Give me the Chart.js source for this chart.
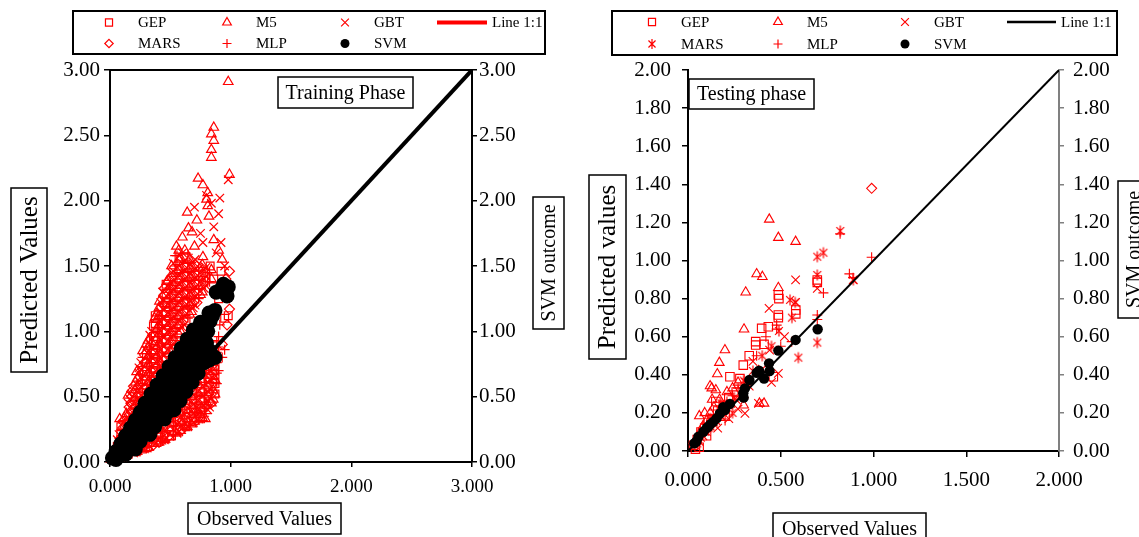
<!DOCTYPE html>
<html>
<head>
<meta charset="utf-8">
<title>Training and testing phase</title>
<script src="https://cdn.jsdelivr.net/npm/chart.js@4.4.1/dist/chart.umd.min.js"></script>
<style>
  body { margin: 0; background: #fff; }
  #wrap { position: relative; width: 1139px; height: 537px; overflow: hidden; }
  canvas { position: absolute; top: 0; }
  #train { left: 0; }
  #test { left: 575px; }
</style>
</head>
<body>
<div id="wrap">
  <canvas id="train" width="575" height="537"></canvas>
  <canvas id="test" width="564" height="537"></canvas>
</div>
<script>
// series names as in the legends
const modelNames = ['GEP', 'M5', 'GBT', 'MARS', 'MLP', 'SVM'];
const lineName = 'Line 1:1';

// axis ranges
const trainX = [0, 3], trainY = [0, 3];
const testX = [0, 2], testY = [0, 2];

// ---- training phase, [observed, predicted] ----
const trainGEP = [
  [0.09,0.17],[0.09,0.22],[0.09,0.27],
  [0.36,0.62],[0.36,0.69],[0.36,0.76],[0.36,0.83],[0.36,0.90],[0.36,0.96],[0.36,1.04],
  [0.63,1.08],[0.63,1.15],[0.63,1.22],[0.63,1.29],[0.63,1.36],[0.63,1.43],[0.63,1.50],[0.63,1.57],
  [0.375,0.65],[0.375,0.72],[0.375,0.79],[0.375,0.86],[0.375,0.93],[0.375,0.99],[0.375,1.06],[0.375,1.12],
  [0.465,0.80],[0.465,0.87],[0.465,0.94],[0.465,1.01],[0.465,1.08],[0.465,1.15],[0.465,1.22],[0.465,1.29],[0.465,1.36],
  [0.15,0.06],[0.15,0.10],[0.15,0.13],[0.27,0.10],[0.27,0.15],[0.27,0.21],
  [0.39,0.15],[0.39,0.21],[0.39,0.27],[0.39,0.33],
  [0.51,0.20],[0.51,0.27],[0.51,0.34],[0.51,0.41],[0.51,0.44],
  [0.63,0.27],[0.63,0.34],[0.63,0.41],[0.63,0.48],[0.63,0.55],
  [0.75,0.33],[0.75,0.40],[0.75,0.47],[0.75,0.54],[0.75,0.62],[0.75,0.68],
  [0.87,0.52],[0.87,0.60],[0.87,0.67],[0.87,0.74],[0.87,0.82],[0.87,0.90],
  [0.83,1.50],[0.92,1.46],[0.95,1.10],[0.98,1.12],[0.90,1.25],[0.86,1.40],[0.94,1.32]
];
const trainM5 = [
  [0.01,0.02],[0.02,0.05],[0.04,0.11],[0.03,0.08],[0.045,0.10],
  [0.12,0.22],[0.12,0.28],[0.12,0.34],[0.135,0.25],[0.135,0.31],[0.135,0.37],
  [0.21,0.37],[0.21,0.43],[0.21,0.49],[0.21,0.55],[0.21,0.61],
  [0.225,0.40],[0.225,0.46],[0.225,0.52],[0.225,0.58],[0.225,0.64],
  [0.30,0.52],[0.30,0.58],[0.30,0.65],[0.30,0.72],[0.30,0.78],[0.30,0.85],[0.30,0.90],
  [0.315,0.55],[0.315,0.61],[0.315,0.68],[0.315,0.75],[0.315,0.81],[0.315,0.88],[0.315,0.93],
  [0.39,0.67],[0.39,0.74],[0.39,0.81],[0.39,0.88],[0.39,0.95],[0.39,1.02],[0.39,1.09],[0.39,1.14],
  [0.405,0.70],[0.405,0.77],[0.405,0.84],[0.405,0.91],[0.405,0.98],[0.405,1.05],[0.405,1.12],[0.405,1.18],
  [0.48,0.83],[0.48,0.90],[0.48,0.97],[0.48,1.04],[0.48,1.11],[0.48,1.18],[0.48,1.25],[0.48,1.32],[0.48,1.39],
  [0.495,0.85],[0.495,0.92],[0.495,0.99],[0.495,1.06],[0.495,1.13],[0.495,1.20],[0.495,1.27],[0.495,1.34],[0.495,1.41],
  [0.57,0.98],[0.57,1.05],[0.57,1.12],[0.57,1.19],[0.57,1.26],[0.57,1.33],[0.57,1.40],[0.57,1.47],[0.57,1.55],[0.57,1.62],
  [0.585,1.00],[0.585,1.07],[0.585,1.14],[0.585,1.21],[0.585,1.28],[0.585,1.35],[0.585,1.42],[0.585,1.49],[0.585,1.56],
  [0.66,1.13],[0.66,1.20],[0.66,1.27],[0.66,1.34],[0.66,1.41],[0.66,1.48],[0.66,1.55],
  [0.675,1.15],[0.675,1.22],[0.675,1.29],[0.675,1.36],[0.675,1.43],[0.675,1.50],
  [0.75,1.28],[0.75,1.35],[0.75,1.42],[0.75,1.49],[0.765,1.30],[0.765,1.37],[0.765,1.44],[0.765,1.51],
  [0.84,1.40],[0.84,1.47],
  [0.98,2.91],[0.86,2.56],[0.84,2.51],[0.86,2.46],[0.84,2.39],[0.84,2.33],[0.99,2.20],
  [0.73,2.17],[0.77,2.12],[0.80,2.01],[0.81,2.06],[0.64,1.91],[0.72,1.85],[0.65,1.79],
  [0.81,1.96],[0.82,1.88],[0.55,1.65],[0.70,1.65],[0.51,1.50],[0.77,1.57],[0.93,1.55],
  [0.47,1.38],[0.41,1.23],[0.37,1.10],[0.27,0.85],[0.22,0.69],[0.15,0.51],[0.08,0.33],
  [0.60,1.72],[0.68,1.76],[0.86,1.70],[0.90,1.62],[0.62,1.62],
  [0.64,0.27],[0.79,0.33],[0.87,0.52],[0.87,0.63],[0.80,0.43],[0.72,0.38],[0.55,0.22],
  [0.45,0.17],[0.30,0.10],[0.60,0.30],[0.75,0.36],[0.84,0.45],[0.70,0.31],[0.42,0.16],
  [0.03,0.01],[0.12,0.04],[0.21,0.07],
  [0.135,0.05],[0.135,0.09],[0.225,0.08],[0.225,0.13],[0.225,0.18],
  [0.315,0.11],[0.315,0.17],[0.315,0.23],[0.315,0.28],
  [0.405,0.15],[0.405,0.22],[0.405,0.28],[0.405,0.34],
  [0.495,0.19],[0.495,0.26],[0.495,0.33],[0.495,0.40],
  [0.585,0.24],[0.585,0.31],[0.585,0.38],[0.585,0.45],[0.585,0.51],
  [0.675,0.29],[0.675,0.36],[0.675,0.43],[0.675,0.50],[0.675,0.58],
  [0.765,0.34],[0.765,0.41],[0.765,0.48],[0.765,0.55],[0.765,0.63],[0.765,0.69],
  [0.855,0.48],[0.855,0.55],[0.855,0.62],[0.855,0.69],[0.855,0.76],[0.855,0.84]
];
const trainGBT = [
  [0.06,0.12],[0.06,0.17],[0.075,0.15],[0.075,0.21],
  [0.15,0.27],[0.15,0.33],[0.15,0.39],[0.15,0.45],
  [0.165,0.30],[0.165,0.36],[0.165,0.42],[0.165,0.48],
  [0.24,0.42],[0.24,0.48],[0.24,0.55],[0.24,0.62],[0.24,0.68],[0.24,0.72],
  [0.255,0.45],[0.255,0.51],[0.255,0.58],[0.255,0.65],[0.255,0.71],[0.255,0.76],
  [0.33,0.57],[0.33,0.64],[0.33,0.70],[0.33,0.77],[0.33,0.84],[0.33,0.90],[0.33,0.97],
  [0.345,0.60],[0.345,0.67],[0.345,0.73],[0.345,0.80],[0.345,0.87],[0.345,0.94],[0.345,1.00],
  [0.42,0.72],[0.42,0.79],[0.42,0.86],[0.42,0.93],[0.42,1.00],[0.42,1.07],[0.42,1.14],[0.42,1.22],
  [0.435,0.75],[0.435,0.82],[0.435,0.89],[0.435,0.96],[0.435,1.03],[0.435,1.10],[0.435,1.17],[0.435,1.24],[0.435,1.30],
  [0.51,0.88],[0.51,0.95],[0.51,1.02],[0.51,1.09],[0.51,1.16],[0.51,1.23],[0.51,1.30],[0.51,1.37],[0.51,1.45],
  [0.525,0.90],[0.525,0.97],[0.525,1.04],[0.525,1.11],[0.525,1.18],[0.525,1.25],[0.525,1.32],[0.525,1.39],[0.525,1.46],[0.525,1.52],
  [0.60,1.03],[0.60,1.10],[0.60,1.17],[0.60,1.24],[0.60,1.31],[0.60,1.38],[0.60,1.45],[0.60,1.52],[0.60,1.60],
  [0.615,1.05],[0.615,1.12],[0.615,1.19],[0.615,1.26],[0.615,1.33],[0.615,1.40],[0.615,1.47],[0.615,1.54],
  [0.69,1.18],[0.69,1.25],[0.69,1.32],[0.69,1.39],[0.69,1.46],[0.69,1.53],
  [0.705,1.20],[0.705,1.27],[0.705,1.34],[0.705,1.41],[0.705,1.48],[0.705,1.55],
  [0.78,1.33],[0.78,1.40],[0.78,1.47],[0.795,1.35],[0.795,1.42],[0.795,1.49],
  [0.09,0.04],[0.09,0.07],[0.105,0.04],[0.105,0.08],
  [0.21,0.08],[0.21,0.12],[0.21,0.17],[0.195,0.07],[0.195,0.11],[0.195,0.16],
  [0.285,0.10],[0.285,0.16],[0.285,0.22],
  [0.33,0.12],[0.33,0.18],[0.33,0.24],[0.33,0.29],
  [0.375,0.14],[0.375,0.20],[0.375,0.26],[0.375,0.32],
  [0.45,0.17],[0.45,0.24],[0.45,0.31],[0.45,0.37],
  [0.465,0.18],[0.465,0.24],[0.465,0.31],[0.465,0.38],
  [0.57,0.23],[0.57,0.30],[0.57,0.37],[0.57,0.44],[0.57,0.50],
  [0.555,0.22],[0.555,0.29],[0.555,0.36],[0.555,0.43],[0.555,0.49],
  [0.645,0.27],[0.645,0.34],[0.645,0.41],[0.645,0.48],[0.645,0.56],
  [0.69,0.30],[0.69,0.37],[0.69,0.44],[0.69,0.51],[0.69,0.59],
  [0.735,0.33],[0.735,0.40],[0.735,0.47],[0.735,0.54],[0.735,0.62],
  [0.81,0.40],[0.81,0.47],[0.81,0.54],[0.81,0.61],[0.81,0.68],[0.81,0.74],
  [0.825,0.42],[0.825,0.49],[0.825,0.56],[0.825,0.63],[0.825,0.70],[0.825,0.77],
  [0.98,2.16],[0.91,2.02],[0.80,2.04],[0.77,1.68],[0.92,1.68],[0.86,1.80],[0.90,1.90],
  [0.70,1.95],[0.88,1.60],[0.75,1.75],[0.84,1.98],[0.95,1.50]
];
const trainMARS = [
  [0.105,0.20],[0.105,0.26],[0.105,0.31],
  [0.18,0.32],[0.18,0.38],[0.18,0.44],[0.18,0.50],[0.18,0.54],
  [0.195,0.35],[0.195,0.41],[0.195,0.47],[0.195,0.53],[0.195,0.58],
  [0.285,0.50],[0.285,0.56],[0.285,0.62],[0.285,0.69],[0.285,0.76],[0.285,0.82],
  [0.45,0.78],[0.45,0.85],[0.45,0.92],[0.45,0.99],[0.45,1.06],[0.45,1.13],[0.45,1.20],[0.45,1.28],[0.45,1.33],
  [0.72,1.22],[0.72,1.29],[0.72,1.36],[0.72,1.43],[0.72,1.50],
  [0.12,0.05],[0.12,0.09],[0.24,0.09],[0.24,0.14],[0.24,0.19],
  [0.36,0.13],[0.36,0.19],[0.36,0.26],[0.36,0.31],
  [0.48,0.19],[0.48,0.25],[0.48,0.32],[0.48,0.39],
  [0.60,0.25],[0.60,0.32],[0.60,0.39],[0.60,0.46],[0.60,0.53],
  [0.72,0.32],[0.72,0.39],[0.72,0.46],[0.72,0.53],[0.72,0.61],
  [0.84,0.45],[0.84,0.52],[0.84,0.59],[0.84,0.66],[0.84,0.73],[0.84,0.80],
  [0.99,1.46],[0.99,1.17],[0.97,1.05],[0.93,0.90],[0.96,1.40]
];
const trainMLP = [
  [0.27,0.47],[0.27,0.53],[0.27,0.60],[0.27,0.66],[0.27,0.73],[0.27,0.80],
  [0.54,0.93],[0.54,1.00],[0.54,1.07],[0.54,1.14],[0.54,1.21],[0.54,1.28],[0.54,1.35],[0.54,1.42],[0.54,1.50],[0.54,1.58],
  [0.555,0.95],[0.555,1.02],[0.555,1.09],[0.555,1.16],[0.555,1.23],[0.555,1.30],[0.555,1.37],[0.555,1.44],[0.555,1.51],[0.555,1.58],
  [0.645,1.10],[0.645,1.17],[0.645,1.24],[0.645,1.31],[0.645,1.38],[0.645,1.45],[0.645,1.52],[0.645,1.59],
  [0.735,1.25],[0.735,1.32],[0.735,1.39],[0.735,1.46],
  [0.81,1.38],[0.81,1.45],[0.825,1.38],[0.825,1.45],
  [0.06,0.03],[0.06,0.05],[0.075,0.03],[0.075,0.06],
  [0.18,0.07],[0.18,0.11],[0.18,0.15],[0.165,0.06],[0.165,0.10],[0.165,0.14],
  [0.255,0.09],[0.255,0.14],[0.255,0.20],
  [0.30,0.11],[0.30,0.17],[0.30,0.23],
  [0.345,0.12],[0.345,0.19],[0.345,0.25],[0.345,0.30],
  [0.42,0.16],[0.42,0.22],[0.42,0.29],[0.42,0.35],
  [0.435,0.16],[0.435,0.23],[0.435,0.30],[0.435,0.36],
  [0.54,0.21],[0.54,0.28],[0.54,0.35],[0.54,0.42],[0.54,0.47],
  [0.525,0.20],[0.525,0.27],[0.525,0.34],[0.525,0.41],[0.525,0.46],
  [0.615,0.26],[0.615,0.33],[0.615,0.40],[0.615,0.47],[0.615,0.54],
  [0.66,0.28],[0.66,0.35],[0.66,0.42],[0.66,0.49],[0.66,0.57],
  [0.705,0.31],[0.705,0.38],[0.705,0.45],[0.705,0.52],[0.705,0.60],
  [0.78,0.35],[0.78,0.42],[0.78,0.49],[0.78,0.56],[0.78,0.64],[0.78,0.70],
  [0.795,0.37],[0.795,0.44],[0.795,0.51],[0.795,0.58],[0.795,0.65],[0.795,0.72],
  [0.885,0.60],[0.885,0.68],[0.885,0.76],[0.885,0.84],[0.885,0.92],
  [0.90,0.70],[0.90,0.80],[0.90,0.88],[0.90,0.96],
  [0.93,0.80],[0.95,0.86],[0.91,1.05]
];
const trainSVM = [
  [0.02,0.03],[0.05,0.02],[0.05,0.08],[0.09,0.07],[0.13,0.06],
  [0.09,0.14],[0.13,0.13],[0.17,0.11],[0.21,0.10],
  [0.13,0.20],[0.17,0.19],[0.21,0.17],[0.25,0.16],
  [0.17,0.26],[0.21,0.25],[0.25,0.23],[0.29,0.22],[0.33,0.21],
  [0.21,0.32],[0.25,0.31],[0.29,0.29],[0.33,0.28],[0.37,0.27],
  [0.25,0.38],[0.29,0.37],[0.33,0.35],[0.37,0.34],[0.41,0.33],[0.45,0.33],
  [0.29,0.45],[0.33,0.44],[0.37,0.42],[0.41,0.41],[0.45,0.40],[0.49,0.39],[0.53,0.40],
  [0.34,0.52],[0.38,0.51],[0.42,0.49],[0.46,0.48],[0.50,0.47],[0.54,0.46],[0.58,0.47],
  [0.39,0.59],[0.43,0.58],[0.47,0.56],[0.51,0.55],[0.55,0.54],[0.59,0.53],[0.63,0.54],
  [0.44,0.66],[0.48,0.65],[0.52,0.63],[0.56,0.62],[0.60,0.61],[0.64,0.60],[0.68,0.61],
  [0.49,0.73],[0.53,0.72],[0.57,0.70],[0.61,0.69],[0.65,0.68],[0.69,0.67],[0.73,0.68],
  [0.54,0.80],[0.58,0.79],[0.62,0.77],[0.66,0.76],[0.70,0.75],[0.74,0.75],[0.78,0.76],[0.82,0.78],[0.87,0.80],
  [0.59,0.87],[0.63,0.86],[0.67,0.84],[0.71,0.83],[0.75,0.82],[0.79,0.83],[0.83,0.85],
  [0.64,0.94],[0.68,0.93],[0.72,0.91],[0.76,0.90],[0.80,0.91],
  [0.69,1.01],[0.73,0.99],[0.77,0.98],[0.81,1.00],
  [0.75,1.07],[0.79,1.06],[0.83,1.08],[0.82,1.14],[0.85,1.12],[0.87,1.16],
  [0.88,1.30],[0.92,1.32],[0.96,1.29],[0.98,1.34],[0.94,1.36],[0.97,1.27]
];

// ---- testing phase ----
const testGEP = [
  [0.487,0.819],[0.49,0.80],[0.697,0.898],[0.697,0.885],[0.581,0.740],[0.581,0.72],
  [0.487,0.714],[0.487,0.70],[0.397,0.644],[0.433,0.652],[0.365,0.574],[0.365,0.556],
  [0.298,0.451],[0.226,0.39],[0.46,0.39],[0.33,0.50],[0.41,0.56],
  [0.03,0.03],[0.05,0.06],[0.07,0.10],[0.09,0.12],[0.11,0.15],[0.13,0.17],[0.16,0.21],
  [0.19,0.24],[0.22,0.28],[0.26,0.31],[0.28,0.38],[0.15,0.26],[0.10,0.08],[0.20,0.19],
  [0.04,0.01],[0.06,0.02]
];
const testM5 = [
  [0.438,1.216],[0.487,1.120],[0.580,1.099],[0.370,0.929],[0.401,0.915],[0.487,0.857],
  [0.311,0.833],[0.302,0.639],[0.199,0.530],[0.169,0.464],[0.158,0.404],[0.119,0.341],
  [0.128,0.330],[0.061,0.184],[0.410,0.250],[0.385,0.250],
  [0.04,0.05],[0.06,0.09],[0.08,0.13],[0.10,0.16],[0.12,0.20],[0.14,0.23],[0.17,0.27],
  [0.21,0.31],[0.24,0.33],[0.27,0.36],[0.09,0.20],[0.13,0.27],[0.30,0.24],[0.18,0.20],[0.15,0.32]
];
const testGBT = [
  [0.437,0.749],[0.580,0.898],[0.697,0.854],[0.891,0.898],[0.487,0.408],[0.307,0.198],
  [0.38,0.25],[0.58,0.78],[0.35,0.47],[0.44,0.53],[0.52,0.60],[0.40,0.43],[0.33,0.34],[0.45,0.36],
  [0.04,0.03],[0.06,0.05],[0.08,0.08],[0.10,0.10],[0.12,0.13],[0.15,0.16],[0.18,0.18],
  [0.20,0.22],[0.23,0.25],[0.26,0.27],[0.29,0.32],[0.16,0.12],[0.22,0.17],[0.31,0.36],[0.27,0.22]
];
const testMARS = [
  [0.821,1.155],[0.697,1.020],[0.730,1.041],[0.697,0.924],[0.550,0.793],[0.578,0.78],
  [0.697,0.569],[0.595,0.490],[0.891,0.898],[0.45,0.55],[0.40,0.50],[0.35,0.42],
  [0.49,0.63],[0.56,0.70],[0.30,0.37],
  [0.05,0.04],[0.07,0.07],[0.09,0.10],[0.11,0.12],[0.14,0.15],[0.17,0.19],[0.19,0.21],
  [0.22,0.24],[0.25,0.28],[0.28,0.30],[0.12,0.17],[0.18,0.25],[0.24,0.20]
];
const testMARSodd = [[0.990,1.379]];
const testMLP = [
  [0.82,1.14],[0.990,1.017],[0.73,0.83],[0.697,0.714],[0.697,0.69],[0.478,0.661],
  [0.478,0.64],[0.559,0.574],[0.89,0.91],[0.87,0.93],[0.42,0.60],[0.37,0.50],[0.50,0.55],
  [0.03,0.04],[0.06,0.07],[0.08,0.09],[0.11,0.11],[0.13,0.14],[0.15,0.18],[0.18,0.22],
  [0.21,0.26],[0.24,0.29],[0.27,0.33],[0.10,0.14],[0.20,0.16],[0.30,0.28]
];
const testSVM = [
  [0.699,0.639],[0.580,0.583],[0.487,0.527],[0.437,0.460],[0.44,0.42],[0.383,0.421],
  [0.41,0.38],[0.37,0.41],[0.331,0.373],[0.307,0.329],[0.298,0.303],[0.226,0.247],
  [0.199,0.215],[0.172,0.197],[0.154,0.171],[0.136,0.153],[0.110,0.128],[0.083,0.101],
  [0.056,0.075],[0.034,0.040],[0.30,0.28],[0.19,0.23],[0.12,0.14],[0.10,0.12],[0.045,0.05]
];

const RED = '#ff0000';
const FONT = '"Liberation Serif", "Times New Roman", serif';
const pts = a => a.map(([x, y]) => ({ x, y }));

function drawMarker(ctx, style, x, y, r, color, lw) {
  ctx.save();
  ctx.strokeStyle = color;
  ctx.fillStyle = color;
  ctx.lineWidth = lw;
  ctx.beginPath();
  const d = r * Math.SQRT1_2;
  if (style === 'rect') {
    ctx.rect(x - d, y - d, 2 * d, 2 * d);
  } else if (style === 'rectRot') {
    ctx.moveTo(x, y - r); ctx.lineTo(x + r, y); ctx.lineTo(x, y + r); ctx.lineTo(x - r, y); ctx.closePath();
  } else if (style === 'triangle') {
    ctx.moveTo(x, y - r); ctx.lineTo(x + r * 0.866, y + r * 0.5); ctx.lineTo(x - r * 0.866, y + r * 0.5); ctx.closePath();
  } else if (style === 'cross') {
    ctx.moveTo(x - r, y); ctx.lineTo(x + r, y); ctx.moveTo(x, y - r); ctx.lineTo(x, y + r);
  } else if (style === 'crossRot') {
    ctx.moveTo(x - d, y - d); ctx.lineTo(x + d, y + d); ctx.moveTo(x - d, y + d); ctx.lineTo(x + d, y - d);
  } else if (style === 'asterisk') {
    ctx.moveTo(x - d, y - d); ctx.lineTo(x + d, y + d); ctx.moveTo(x - d, y + d); ctx.lineTo(x + d, y - d);
    ctx.moveTo(x, y - r); ctx.lineTo(x, y + r);
  } else if (style === 'circle') {
    ctx.arc(x, y, r, 0, Math.PI * 2);
    ctx.fill();
    ctx.restore();
    return;
  }
  ctx.stroke();
  ctx.restore();
}

function markerImage(style, r, color, lw) {
  const c = document.createElement('canvas');
  const s = Math.ceil(2 * r + 3);
  c.width = s; c.height = s;
  drawMarker(c.getContext('2d'), style, s / 2, s / 2, r, color, lw);
  return c;
}

function redSet(label, data, style, r, lw, order) {
  return {
    label, data: pts(data), order, clip: false,
    pointStyle: style, pointRadius: r, pointBorderWidth: lw,
    pointBorderColor: RED, pointBackgroundColor: 'rgba(0,0,0,0)'
  };
}
function svmSet(data, r) {
  return {
    label: 'SVM', data: pts(data), order: 1, clip: false,
    pointStyle: 'circle', pointRadius: r, pointBorderWidth: 0,
    pointBorderColor: '#000', pointBackgroundColor: '#000'
  };
}
function lineSet(range, width) {
  return {
    label: lineName, data: pts([[range[0], range[0]], [range[1], range[1]]]), order: 0,
    showLine: true, borderColor: '#000', borderWidth: width, pointRadius: 0
  };
}

// boxes, legend and top frame
const decor = {
  id: 'decor',
  afterDraw(chart, args, o) {
    if (!o || !o.legend) return;
    const ctx = chart.ctx;
    ctx.save();
    ctx.translate(-o.ox, 0);
    if (o.frameTop) {
      const a = chart.chartArea;
      ctx.strokeStyle = '#000'; ctx.lineWidth = 2;
      ctx.beginPath(); ctx.moveTo(a.left + o.ox, a.top); ctx.lineTo(a.right + o.ox, a.top); ctx.stroke();
    }
    const L = o.legend;
    ctx.strokeStyle = '#000'; ctx.lineWidth = 2;
    ctx.strokeRect(L.box[0], L.box[1], L.box[2], L.box[3]);
    ctx.font = '15px ' + FONT;
    ctx.textAlign = 'left'; ctx.textBaseline = 'middle';
    L.items.forEach(it => {
      drawMarker(ctx, it.style, it.x, it.y, it.r, it.color, 1.2);
      ctx.fillStyle = '#000';
      ctx.fillText(it.text, it.tx, it.y + 1);
    });
    ctx.strokeStyle = L.line.color; ctx.lineWidth = L.line.width;
    ctx.beginPath(); ctx.moveTo(L.line.x1, L.line.y); ctx.lineTo(L.line.x2, L.line.y); ctx.stroke();
    ctx.fillStyle = '#000';
    ctx.fillText(lineName, L.line.tx, L.line.y + 1);

    o.boxes.forEach(b => {
      ctx.strokeStyle = '#000'; ctx.lineWidth = 1.5;
      ctx.strokeRect(b.x, b.y, b.w, b.h);
      ctx.save();
      ctx.translate(b.x + b.w / 2, b.y + b.h / 2);
      if (b.rotate) ctx.rotate(-Math.PI / 2);
      ctx.font = b.size + 'px ' + FONT;
      ctx.textAlign = 'center'; ctx.textBaseline = 'middle';
      ctx.fillStyle = '#000';
      ctx.fillText(b.text, 0, 1);
      ctx.restore();
    });
    ctx.restore();
  }
};

function legendItems(cols, rows, textDx, styles, colors, radii) {
  return modelNames.map((name, i) => ({
    text: name, style: styles[i], color: colors[i], r: radii[i],
    x: cols[i % 3], tx: cols[i % 3] + textDx, y: rows[Math.floor(i / 3)]
  }));
}

function axis(range, step, digits, pos, fontSize, tl, pad, color, fit) {
  return {
    type: 'linear', position: pos, min: range[0], max: range[1],
    ticks: {
      stepSize: step, autoSkip: false, maxRotation: 0, color: '#000', padding: pad,
      font: { family: FONT, size: fontSize }, callback: v => v.toFixed(digits)
    },
    grid: { display: true, drawOnChartArea: false, drawTicks: true, tickLength: tl, color, lineWidth: 1.5 },
    border: { display: true, color, width: 2 },
    afterFit: fit
  };
}

function baseOptions(decorOpts, scales) {
  return {
    responsive: false, animation: false, events: [],
    layout: { padding: { top: 70, left: 0, right: 0, bottom: 0 }, autoPadding: false },
    plugins: { legend: { display: false }, tooltip: { enabled: false }, decor: decorOpts },
    scales
  };
}

// decoration settings (page coordinates)
const trainDecor = {
  ox: 0, frameTop: true,
  legend: {
    box: [73, 11, 472, 43],
    items: legendItems([109, 227, 345], [22.5, 43.5], 29,
      ['rect', 'triangle', 'crossRot', 'rectRot', 'cross', 'circle'],
      [RED, RED, RED, RED, RED, '#000'], [5, 5, 5.5, 4.2, 4.5, 4.5]),
    line: { x1: 437, x2: 487, y: 22.5, color: RED, width: 4, tx: 492 }
  },
  boxes: [
    { x: 278, y: 77, w: 135, h: 31, text: 'Training Phase', size: 20 },
    { x: 11, y: 188, w: 36, h: 184, text: 'Predicted Values', size: 25, rotate: true },
    { x: 533, y: 197, w: 31, h: 132, text: 'SVM outcome', size: 20, rotate: true },
    { x: 188, y: 503, w: 153, h: 31, text: 'Observed Values', size: 20 }
  ]
};
const testDecor = {
  ox: 575, frameTop: false,
  legend: {
    box: [612, 11, 505, 44],
    items: legendItems([652, 778, 905], [22, 44], 29,
      ['rect', 'triangle', 'crossRot', 'asterisk', 'cross', 'circle'],
      [RED, RED, RED, RED, RED, '#000'], [5, 5, 5.5, 5, 4.5, 4.5]),
    line: { x1: 1007, x2: 1056, y: 22, color: '#000', width: 2.5, tx: 1061 }
  },
  boxes: [
    { x: 689, y: 79, w: 125, h: 30, text: 'Testing phase', size: 20 },
    { x: 589, y: 175, w: 37, h: 184, text: 'Predicted values', size: 25, rotate: true },
    { x: 1118, y: 181, w: 32, h: 137, text: 'SVM outcome', size: 20, rotate: true },
    { x: 773, y: 513, w: 153, h: 32, text: 'Observed Values', size: 20 }
  ]
};

// training chart
new Chart(document.getElementById('train'), {
  type: 'scatter',
  data: {
    datasets: [
      lineSet(trainX, 4),
      svmSet(trainSVM, 7.5),
      redSet('GEP', trainGEP, 'rect', 5.5, 1.2, 6),
      redSet('MARS', trainMARS, 'rectRot', 5, 1.2, 5),
      redSet('MLP', trainMLP, 'cross', 5, 1.2, 4),
      redSet('GBT', trainGBT, 'crossRot', 6, 1.2, 3),
      redSet('M5', trainM5, 'triangle', 5.5, 1.2, 2)
    ]
  },
  options: baseOptions(trainDecor, {
    x: axis(trainX, 1, 3, 'bottom', 19, 5, 9, '#000', s => { s.height = 75; }),
    y: axis(trainY, 0.5, 2, 'left', 21, 6, 4, '#000', s => { s.width = 110; }),
    y2: axis(trainY, 0.5, 2, 'right', 21, 5, 2, '#000', s => { s.width = 103; })
  }),
  plugins: [decor]
});

// testing chart
const asterisk = markerImage('asterisk', 5.5, RED, 1.2);
new Chart(document.getElementById('test'), {
  type: 'scatter',
  data: {
    datasets: [
      lineSet(testX, 2),
      svmSet(testSVM, 5.2),
      redSet('GEP', testGEP, 'rect', 6, 1.1, 6),
      redSet('MARS', testMARS, asterisk, 5.5, 1.1, 5),
      redSet('MARS', testMARSodd, 'rectRot', 5, 1.1, 5),
      redSet('MLP', testMLP, 'cross', 5, 1.1, 4),
      redSet('GBT', testGBT, 'crossRot', 6, 1.1, 3),
      redSet('M5', testM5, 'triangle', 5.5, 1.1, 2)
    ]
  },
  options: baseOptions(testDecor, {
    x: axis(testX, 0.5, 3, 'bottom', 21, 6, 11, '#000', s => { s.height = 86; }),
    y: axis(testY, 0.2, 2, 'left', 21, 6, 11, '#000', s => { s.width = 113; }),
    y2: axis(testY, 0.2, 2, 'right', 21, 5, 9, '#808080', s => { s.width = 80; })
  }),
  plugins: [decor]
});
</script>
</body>
</html>
